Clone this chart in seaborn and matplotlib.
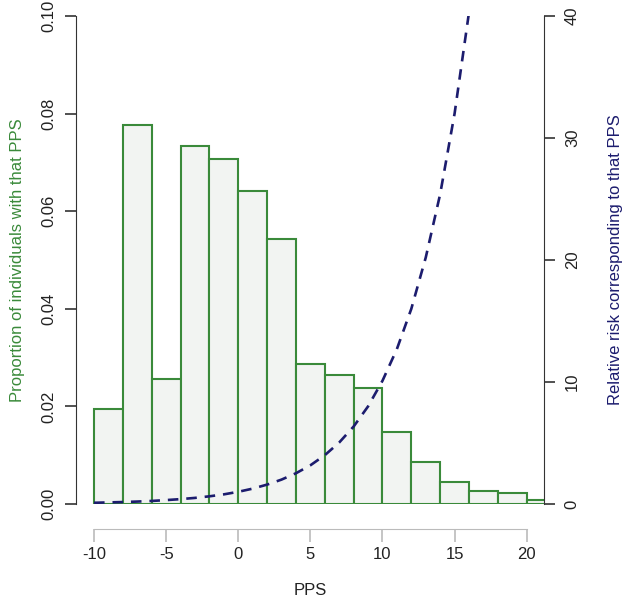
import numpy as np
import pandas as pd
import matplotlib
matplotlib.use("Agg")
import matplotlib.pyplot as plt
import seaborn as sns

# histogram bins (left edges, width 2) and proportions
bin_left = [-10, -8, -6, -4, -2, 0, 2, 4, 6, 8, 10, 12, 14, 16, 18, 20]
proportion = [0.0195, 0.0777, 0.0256, 0.0734, 0.0707, 0.0641, 0.0543, 0.0287,
              0.0264, 0.0238, 0.0148, 0.0086, 0.0045, 0.0027, 0.0023, 0.0008]

# relative risk curve
pps_curve = [-10, -9, -8, -7, -6, -5, -4, -3, -2, -1, 0, 1, 2, 3, 4, 5, 6,
             7, 8, 9, 10, 11, 12, 13, 14, 15, 16]
rel_risk = [0.10, 0.13, 0.16, 0.20, 0.25, 0.32, 0.40, 0.50, 0.63, 0.79, 1.0,
            1.26, 1.59, 2.0, 2.52, 3.17, 4.0, 5.04, 6.35, 8.0, 10.1, 12.7,
            16.0, 20.2, 25.4, 32.0, 40.3]

green = "#3a8a3a"
navy = "#1c1c6e"

sns.set_style("white")
plt.rcParams['font.family'] = ['Liberation Sans', 'DejaVu Sans']

hist_df = pd.DataFrame({'pps': np.array(bin_left) + 1, 'prop': proportion})
curve_df = pd.DataFrame({'pps': pps_curve, 'rr': rel_risk})

fig = plt.figure(figsize=(6.25, 6.01), dpi=100)
ax = fig.add_axes([76/625, 1 - 504/601, 468/625, 488/601])

edges = list(bin_left) + [bin_left[-1] + 2]
sns.histplot(data=hist_df, x='pps', weights='prop', bins=edges, stat='count',
             color="#f2f4f2", edgecolor=green, linewidth=1.5, alpha=1, ax=ax)
ax.set_xlim(-11.25, 21.2)
ax.set_ylim(0, 0.1)

ax2 = ax.twinx()
sns.lineplot(data=curve_df, x='pps', y='rr', color=navy, linewidth=1.9,
             linestyle=(0, (4, 3)), ax=ax2)
ax2.set_ylim(0, 40)
ax2.set_xlim(-11.25, 21.2)

for a in (ax, ax2):
    for s in a.spines.values():
        s.set_visible(False)

ax.spines['left'].set_visible(True)
ax.spines['left'].set_color("#333333")
ax.spines['left'].set_bounds(0, 0.1)
ax.spines['bottom'].set_visible(True)
ax.spines['bottom'].set_color("#bbbbbb")
ax.spines['bottom'].set_position(('outward', 18))
ax.spines['bottom'].set_bounds(-10, 20)
ax2.spines['right'].set_visible(True)
ax2.spines['right'].set_color("#333333")
ax2.spines['right'].set_bounds(0, 40)

ax.set_yticks([0, 0.02, 0.04, 0.06, 0.08, 0.10])
ax.set_yticklabels(["0.00", "0.02", "0.04", "0.06", "0.08", "0.10"],
                   rotation=90, va='center')
ax.set_xticks([-10, -5, 0, 5, 10, 15, 20])
ax.set_xticklabels(["-10", "-5", "0", "5", "10", "15", "20"])
ax2.set_yticks([0, 10, 20, 30, 40])
ax2.set_yticklabels(["0", "10", "20", "30", "40"], rotation=90, va='center')

ax.tick_params(axis='y', left=True, length=8, width=1.2, color="#333333",
               labelsize=12, pad=6, labelcolor="#222222")
ax.tick_params(axis='x', bottom=True, length=9, width=1.2, color="#bbbbbb",
               labelsize=12, pad=4, labelcolor="#222222")
ax2.tick_params(axis='y', right=True, length=8, width=1.2, color="#333333",
                labelsize=12, pad=7, labelcolor="#222222")

ax.set_xlabel("PPS", fontsize=12, labelpad=15, color="#222222")
ax.set_ylabel("Proportion of individuals with that PPS", fontsize=12,
              color=green, labelpad=12)
ax2.set_ylabel("Relative risk corresponding to that PPS", fontsize=12,
               color=navy, labelpad=20)

fig.savefig("out.png", dpi=100)
